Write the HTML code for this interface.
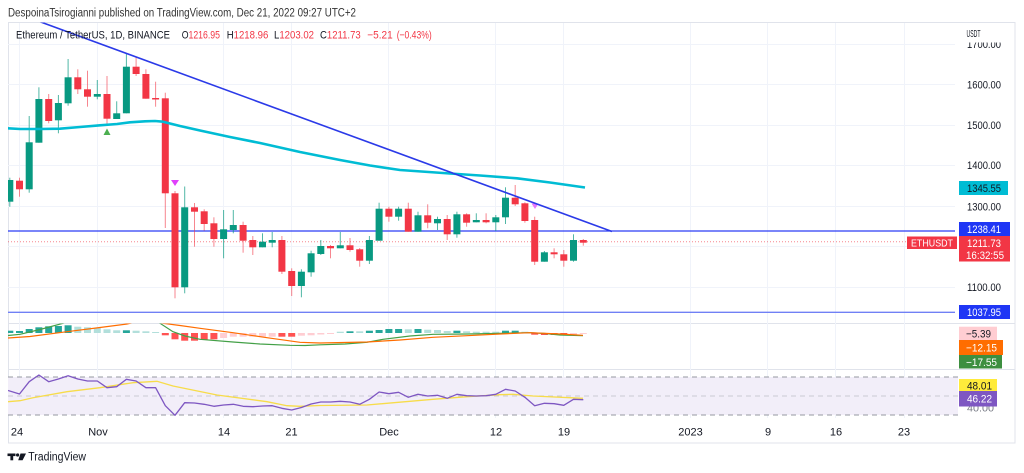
<!DOCTYPE html>
<html><head><meta charset="utf-8">
<style>
html,body{margin:0;padding:0;background:#fff;width:1024px;height:473px;overflow:hidden}
svg{display:block;font-family:"Liberation Sans",sans-serif}
</style></head><body>
<svg width="1024" height="473" viewBox="0 0 1024 473" xmlns="http://www.w3.org/2000/svg">
<defs>
<clipPath id="main"><rect x="8" y="22.5" width="947" height="300.5"/></clipPath>
<clipPath id="macd"><rect x="8" y="323.5" width="947" height="45.5"/></clipPath>
<clipPath id="rsi"><rect x="8" y="369.5" width="947" height="48"/></clipPath>
<clipPath id="lbl40"><rect x="959" y="406.5" width="50" height="6"/></clipPath>
</defs>

<!-- header -->
<text x="8" y="16.7" font-size="11.5" fill="#333" textLength="348" lengthAdjust="spacingAndGlyphs">DespoinaTsirogianni published on TradingView.com, Dec 21, 2022 09:27 UTC+2</text>

<!-- frame -->
<rect x="8.5" y="22.5" width="1006.5" height="420.5" fill="none" stroke="#e0e3eb" stroke-width="1"/>
<line x1="8" y1="323.5" x2="1015" y2="323.5" stroke="#e0e3eb"/>
<line x1="8" y1="369.5" x2="1015" y2="369.5" stroke="#e0e3eb"/>

<!-- grid -->
<g stroke="#f0f3fa" stroke-width="1">
<line x1="19.5" y1="23" x2="19.5" y2="418"/>
<line x1="97.5" y1="23" x2="97.5" y2="418"/>
<line x1="223.5" y1="23" x2="223.5" y2="418"/>
<line x1="291.5" y1="23" x2="291.5" y2="418"/>
<line x1="388.5" y1="23" x2="388.5" y2="418"/>
<line x1="495.5" y1="23" x2="495.5" y2="418"/>
<line x1="563.5" y1="23" x2="563.5" y2="418"/>
<line x1="690.5" y1="23" x2="690.5" y2="418"/>
<line x1="767.5" y1="23" x2="767.5" y2="418"/>
<line x1="835.5" y1="23" x2="835.5" y2="418"/>
<line x1="904.5" y1="23" x2="904.5" y2="418"/>
<line x1="8" y1="44.5" x2="955" y2="44.5"/>
<line x1="8" y1="84.5" x2="955" y2="84.5"/>
<line x1="8" y1="125.5" x2="955" y2="125.5"/>
<line x1="8" y1="165.5" x2="955" y2="165.5"/>
<line x1="8" y1="206.5" x2="955" y2="206.5"/>
<line x1="8" y1="246.5" x2="955" y2="246.5"/>
<line x1="8" y1="287.5" x2="955" y2="287.5"/>
</g>

<g clip-path="url(#main)">
<!-- horizontal levels -->
<line x1="8" y1="231" x2="959" y2="231" stroke="#2a3cf5" stroke-width="1.3"/>
<line x1="8" y1="312.3" x2="959" y2="312.3" stroke="#7080f5" stroke-width="1.3"/>
<line x1="8" y1="241.7" x2="907" y2="241.7" stroke="#f23645" stroke-width="1" stroke-dasharray="1 2" opacity="0.6"/>

<!-- green candles -->
<g fill="#089981">
<g opacity="0.7">
<rect x="9.3" y="177.7" width="1" height="29"/>
<rect x="28.7" y="116" width="1" height="76.7"/>
<rect x="38.4" y="87.3" width="1" height="55.4"/>
<rect x="57.9" y="95" width="1" height="38.3"/>
<rect x="67.6" y="59" width="1" height="46.7"/>
<rect x="96.8" y="80" width="1" height="19.3"/>
<rect x="116.2" y="101.3" width="1" height="17.7"/>
<rect x="125.9" y="54" width="1" height="59.3"/>
<rect x="184.2" y="186.5" width="1" height="106.8"/>
<rect x="223.1" y="210" width="1" height="48.3"/>
<rect x="232.8" y="210" width="1" height="23.3"/>
<rect x="262" y="233.3" width="1" height="14"/>
<rect x="271.7" y="232" width="1" height="15.3"/>
<rect x="300.9" y="269.3" width="1" height="28"/>
<rect x="310.6" y="250.7" width="1" height="26"/>
<rect x="320.3" y="240" width="1" height="15"/>
<rect x="339.8" y="232" width="1" height="16.3"/>
<rect x="368.9" y="236" width="1" height="28"/>
<rect x="378.6" y="202.7" width="1" height="38"/>
<rect x="398.1" y="206.7" width="1" height="14"/>
<rect x="417.5" y="211.7" width="1" height="20"/>
<rect x="437" y="216.7" width="1" height="13.3"/>
<rect x="456.4" y="211.7" width="1" height="26"/>
<rect x="475.8" y="213.3" width="1" height="9"/>
<rect x="495.3" y="215" width="1" height="16"/>
<rect x="505" y="187.3" width="1" height="36.7"/>
<rect x="543.9" y="251" width="1" height="10.7"/>
<rect x="573" y="234.3" width="1" height="27.4"/>
</g>
<rect x="6.3" y="180" width="7" height="21.7"/>
<rect x="25.7" y="142.3" width="7" height="47"/>
<rect x="35.4" y="99" width="7" height="43.7"/>
<rect x="54.9" y="103" width="7" height="17.3"/>
<rect x="64.6" y="77.3" width="7" height="26"/>
<rect x="93.8" y="94" width="7" height="2.7"/>
<rect x="113.2" y="113.3" width="7" height="5.7"/>
<rect x="122.9" y="66.7" width="7" height="46.6"/>
<rect x="181.2" y="207.3" width="7" height="80"/>
<rect x="220.1" y="229.3" width="7" height="9.7"/>
<rect x="229.8" y="225" width="7" height="5"/>
<rect x="259" y="241.7" width="7" height="5.6"/>
<rect x="268.7" y="240" width="7" height="2.7"/>
<rect x="297.9" y="271.7" width="7" height="14.3"/>
<rect x="307.6" y="253.3" width="7" height="19"/>
<rect x="317.3" y="246" width="7" height="8"/>
<rect x="336.8" y="245.3" width="7" height="3"/>
<rect x="365.9" y="240" width="7" height="20.7"/>
<rect x="375.6" y="208.7" width="7" height="32"/>
<rect x="395.1" y="208.7" width="7" height="8"/>
<rect x="414.5" y="215.3" width="7" height="16.4"/>
<rect x="434" y="219" width="7" height="4.3"/>
<rect x="453.4" y="214.3" width="7" height="20"/>
<rect x="472.8" y="220" width="7" height="2.3"/>
<rect x="492.3" y="217.3" width="7" height="5"/>
<rect x="502" y="197.7" width="7" height="19.6"/>
<rect x="540.9" y="252.3" width="7" height="9.4"/>
<rect x="570" y="240" width="7" height="20.7"/>
</g>

<!-- red candles -->
<g fill="#f23645">
<g opacity="0.6">
<rect x="19" y="177.7" width="1" height="19"/>
<rect x="48.2" y="94" width="1" height="29.3"/>
<rect x="77.3" y="69.3" width="1" height="24.7"/>
<rect x="87" y="70.7" width="1" height="36"/>
<rect x="106.5" y="76" width="1" height="48"/>
<rect x="135.6" y="57.3" width="1" height="18.7"/>
<rect x="145.4" y="69.3" width="1" height="29.4"/>
<rect x="155.1" y="81.7" width="1" height="25"/>
<rect x="164.8" y="92.7" width="1" height="135.3"/>
<rect x="174.5" y="191" width="1" height="107.3"/>
<rect x="194" y="203" width="1" height="43.7"/>
<rect x="203.7" y="209.3" width="1" height="21.4"/>
<rect x="213.4" y="217.3" width="1" height="29.4"/>
<rect x="242.6" y="221.7" width="1" height="31"/>
<rect x="252.3" y="236" width="1" height="19"/>
<rect x="281.4" y="236" width="1" height="38"/>
<rect x="291.2" y="268.3" width="1" height="27.7"/>
<rect x="330" y="245" width="1" height="13.3"/>
<rect x="349.5" y="238" width="1" height="13.7"/>
<rect x="359.2" y="248" width="1" height="18.7"/>
<rect x="388.4" y="206.7" width="1" height="15"/>
<rect x="407.8" y="202.7" width="1" height="29"/>
<rect x="427.2" y="204.3" width="1" height="24"/>
<rect x="446.7" y="215" width="1" height="25"/>
<rect x="466.1" y="213.3" width="1" height="13.4"/>
<rect x="485.6" y="213.3" width="1" height="10"/>
<rect x="514.7" y="185" width="1" height="21"/>
<rect x="524.4" y="202.3" width="1" height="20.4"/>
<rect x="534.2" y="216.7" width="1" height="48.3"/>
<rect x="553.6" y="248.3" width="1" height="10"/>
<rect x="563.3" y="250" width="1" height="16.7"/>
<rect x="582.8" y="239" width="1" height="6.7"/>
</g>
<rect x="16" y="180.7" width="7" height="8.6"/>
<rect x="45.2" y="99" width="7" height="22"/>
<rect x="74.3" y="77.3" width="7" height="12"/>
<rect x="84" y="89.3" width="7" height="7.4"/>
<rect x="103.5" y="94" width="7" height="24.7"/>
<rect x="132.6" y="66.7" width="7" height="7.3"/>
<rect x="142.4" y="74" width="7" height="24.7"/>
<rect x="152.1" y="98" width="7" height="1.5"/>
<rect x="161.8" y="98.3" width="7" height="95"/>
<rect x="171.5" y="193.3" width="7" height="94"/>
<rect x="191" y="207.3" width="7" height="4.4"/>
<rect x="200.7" y="211.3" width="7" height="12.7"/>
<rect x="210.4" y="223.3" width="7" height="15.7"/>
<rect x="239.6" y="225" width="7" height="15.7"/>
<rect x="249.3" y="240" width="7" height="7.3"/>
<rect x="278.4" y="240" width="7" height="31.7"/>
<rect x="288.2" y="271" width="7" height="15"/>
<rect x="327" y="246" width="7" height="2.3"/>
<rect x="346.5" y="245.3" width="7" height="4.7"/>
<rect x="356.2" y="249.3" width="7" height="11.4"/>
<rect x="385.4" y="208.7" width="7" height="8"/>
<rect x="404.8" y="208.7" width="7" height="23"/>
<rect x="424.2" y="215.3" width="7" height="7.4"/>
<rect x="443.7" y="219" width="7" height="15.3"/>
<rect x="463.1" y="214.3" width="7" height="8.4"/>
<rect x="482.6" y="220" width="7" height="2.3"/>
<rect x="511.7" y="197.7" width="7" height="6.6"/>
<rect x="521.4" y="203.3" width="7" height="17.7"/>
<rect x="531.2" y="220" width="7" height="41.7"/>
<rect x="550.6" y="252.3" width="7" height="2"/>
<rect x="560.3" y="254.3" width="7" height="6.4"/>
<rect x="579.8" y="240" width="7" height="2.7"/>
</g>

<!-- markers -->
<polygon points="103.5,135 110.5,135 107,128.5" fill="#4caf50"/>
<polygon points="171,180 179,180 175,186" fill="#e040fb"/>
<polygon points="531.5,203.5 538.5,203.5 535,209" fill="#e040fb" opacity="0.7"/>

<!-- cyan MA -->
<polyline fill="none" stroke="#00bcd4" stroke-width="2.6" stroke-linejoin="round" points="8,128.3 20,129 40,129 60,128.7 80,127 100,125.3 117,124 130,122.3 145,121.3 155,121 163,121.7 170,123.5 180,126 200,130.5 230,137 260,143 300,152 340,160 370,165.5 400,170 450,173.5 480,175.5 517,178.3 550,182.5 585,187.5"/>

<!-- trend line -->
<line x1="35" y1="19.9" x2="612" y2="231.5" stroke="#2b3ae8" stroke-width="1.6"/>
</g>

<!-- legend row -->
<text x="16" y="38.7" font-size="11" fill="#131722" textLength="154" lengthAdjust="spacingAndGlyphs">Ethereum / TetherUS, 1D, BINANCE</text>
<g font-size="11" fill="#f23645">
<text x="181.7" y="38.7" textLength="38.3" lengthAdjust="spacingAndGlyphs"><tspan fill="#131722">O</tspan>1216.95</text>
<text x="226.7" y="38.7" textLength="41.6" lengthAdjust="spacingAndGlyphs"><tspan fill="#131722">H</tspan>1218.96</text>
<text x="274" y="38.7" textLength="40" lengthAdjust="spacingAndGlyphs"><tspan fill="#131722">L</tspan>1203.02</text>
<text x="320" y="38.7" textLength="40.7" lengthAdjust="spacingAndGlyphs"><tspan fill="#131722">C</tspan>1211.73</text>
<text x="367.3" y="38.7" textLength="25.4" lengthAdjust="spacingAndGlyphs">−5.21</text>
<text x="396.7" y="38.7" textLength="35" lengthAdjust="spacingAndGlyphs">(−0.43%)</text>
</g>

<!-- MACD panel -->
<g clip-path="url(#macd)">
<g fill="#26a69a">
<rect x="6.3" y="330.7" width="7" height="2.3"/>
<rect x="16" y="331" width="7" height="2"/>
<rect x="25.7" y="329" width="7" height="4"/>
<rect x="35.4" y="327.3" width="7" height="5.7"/>
<rect x="45.2" y="326.3" width="7" height="6.7"/>
<rect x="54.9" y="326" width="7" height="7"/>
<rect x="64.6" y="325.3" width="7" height="7.7"/>
<rect x="122.9" y="330.3" width="7" height="2.7"/>
<rect x="346.5" y="331.3" width="7" height="1.7"/>
<rect x="365.9" y="330.7" width="7" height="2.3"/>
<rect x="375.6" y="330" width="7" height="3"/>
<rect x="385.4" y="329" width="7" height="4"/>
<rect x="395.1" y="329" width="7" height="4"/>
<rect x="414.5" y="329" width="7" height="4"/>
<rect x="453.4" y="330.7" width="7" height="2.3"/>
<rect x="502" y="330.7" width="7" height="2.3"/>
<rect x="511.7" y="330.7" width="7" height="2.3"/>
</g>
<g fill="#b2dfdb">
<rect x="74.3" y="326.7" width="7" height="6.3"/>
<rect x="84" y="327.3" width="7" height="5.7"/>
<rect x="93.8" y="328" width="7" height="5"/>
<rect x="103.5" y="329.3" width="7" height="3.7"/>
<rect x="113.2" y="330.3" width="7" height="2.7"/>
<rect x="132.6" y="330.7" width="7" height="2.3"/>
<rect x="142.4" y="331.3" width="7" height="1.7"/>
<rect x="152.1" y="332" width="7" height="1"/>
<rect x="336.8" y="331.7" width="7" height="1.3"/>
<rect x="356.2" y="331.3" width="7" height="1.7"/>
<rect x="404.8" y="329.3" width="7" height="3.7"/>
<rect x="424.2" y="329.7" width="7" height="3.3"/>
<rect x="434" y="330" width="7" height="3"/>
<rect x="443.7" y="331" width="7" height="2"/>
<rect x="463.1" y="331.3" width="7" height="1.7"/>
<rect x="472.8" y="331.7" width="7" height="1.3"/>
<rect x="482.6" y="331.7" width="7" height="1.3"/>
<rect x="492.3" y="331.7" width="7" height="1.3"/>
<rect x="521.4" y="331.7" width="7" height="1.3"/>
</g>
<g fill="#ff5252">
<rect x="161.8" y="333" width="7" height="2.3"/>
<rect x="171.5" y="333" width="7" height="6.3"/>
<rect x="181.2" y="333" width="7" height="7.7"/>
<rect x="191" y="333" width="7" height="7.7"/>
<rect x="200.7" y="333" width="7" height="7"/>
<rect x="210.4" y="333" width="7" height="6.3"/>
<rect x="278.4" y="333" width="7" height="3.7"/>
<rect x="288.2" y="333" width="7" height="3.7"/>
<rect x="531.2" y="333" width="7" height="1.7"/>
<rect x="540.9" y="333" width="7" height="2"/>
<rect x="550.6" y="333" width="7" height="2"/>
<rect x="560.3" y="333" width="7" height="2"/>
</g>
<g fill="#ffcdd2">
<rect x="220.1" y="333" width="7" height="5"/>
<rect x="229.8" y="333" width="7" height="3.7"/>
<rect x="239.6" y="333" width="7" height="3.7"/>
<rect x="249.3" y="333" width="7" height="3.7"/>
<rect x="259" y="333" width="7" height="3.7"/>
<rect x="268.7" y="333" width="7" height="3.7"/>
<rect x="297.9" y="333" width="7" height="2.7"/>
<rect x="307.6" y="333" width="7" height="2.3"/>
<rect x="317.3" y="333" width="7" height="1.5"/>
<rect x="327" y="333" width="7" height="1"/>
<rect x="570" y="333" width="7" height="1.7"/>
<rect x="579.8" y="333" width="7" height="1"/>
</g>
<polyline fill="none" stroke="#43a047" stroke-width="1.2" points="8,335.5 20,334.3 40,329.5 63,323.3 80,318 120,312 150,318 160,323.3 173,331.7 185,336 200,339.3 233,342 260,344 290,345.3 305,345.5 320,344.8 345,344 367,342.3 383,339.3 410,336 433,334.3 467,334 500,333.3 530,332.7 545,333.5 560,335 583,335.7"/>
<polyline fill="none" stroke="#ff6d00" stroke-width="1.2" points="8,338 30,336.5 67,331.7 100,327.5 127,324 145,320 163,323.3 180,325.5 200,328.3 233,332.7 267,337.7 300,342.3 320,343 367,342 400,340 433,337.3 467,335.7 500,334 530,332.7 560,334 583,335.3"/>
</g>

<!-- RSI panel -->
<rect x="8" y="377" width="950" height="38" fill="#f2eef9"/>
<line x1="8" y1="377" x2="958" y2="377" stroke="#9598a1" stroke-dasharray="5 4"/>
<line x1="8" y1="396" x2="958" y2="396" stroke="#c9c9d2" stroke-dasharray="5 4"/>
<line x1="8" y1="415" x2="958" y2="415" stroke="#9598a1" stroke-dasharray="5 4"/>
<g clip-path="url(#rsi)">
<polyline fill="none" stroke="#f7dc4a" stroke-width="1.3" points="8,401.7 20,400.7 33,397.7 67,391.7 100,387.7 133,382.7 157,381.3 173,386 217,395 267,401.7 287,405.7 300,406.3 320,405.5 367,405 433,399.3 467,396.7 500,394.7 513,394.3 533,396 583,398.3"/>
<polyline fill="none" stroke="#7e57c2" stroke-width="1.3" stroke-linejoin="round" points="8,390.5 19.5,394 29.2,381.7 38.9,375 48.7,381.7 58.4,379 68.1,375.7 77.8,379 87.5,381 97.3,381 107,387.7 116.7,386.7 126.4,379.3 136.1,381 145.9,387.7 155.6,387.7 165.3,405.7 175,415.3 184.7,402.7 194.5,403 204.2,404.3 213.9,406.3 223.6,405 233.3,404.3 243.1,406.3 252.8,406.7 262.5,406 272.2,405.7 281.9,408.3 291.7,410 301.4,407.5 311.1,404 320.8,402 330.5,402 340.3,401.3 350,402 359.7,404.3 369.4,399.3 379.1,392 388.9,393.7 398.6,392.3 408.3,397.3 418,394.3 427.7,396 437.5,395.3 447.2,398.3 456.9,394.3 466.6,395.7 476.3,396 486.1,395.7 495.8,394.3 505.5,389.3 515.2,391 524.9,397.3 534.7,405.7 544.4,403.3 554.1,403.7 563.8,405.3 573.5,399.3 583.3,399.7"/>
</g>

<!-- price axis labels -->
<g font-size="11" fill="#131722">
<text x="967" y="48" textLength="34" lengthAdjust="spacingAndGlyphs">1700.00</text>
<text x="967" y="88.5" textLength="34" lengthAdjust="spacingAndGlyphs">1600.00</text>
<text x="967" y="129" textLength="34" lengthAdjust="spacingAndGlyphs">1500.00</text>
<text x="967" y="169" textLength="34" lengthAdjust="spacingAndGlyphs">1400.00</text>
<text x="967" y="210.5" textLength="34" lengthAdjust="spacingAndGlyphs">1300.00</text>
<text x="967" y="291" textLength="34" lengthAdjust="spacingAndGlyphs">1100.00</text>
</g>
<rect x="956" y="23" width="58" height="19.5" fill="#fff"/>
<text x="966.5" y="37" font-size="10" fill="#131722" textLength="14" lengthAdjust="spacingAndGlyphs">USDT</text>

<!-- boxed labels -->
<rect x="959" y="181" width="49" height="14" fill="#00bcd4"/>
<text x="967" y="192" font-size="11" fill="#131722" textLength="34" lengthAdjust="spacingAndGlyphs">1345.55</text>
<rect x="959" y="222" width="51" height="14" fill="#1f36f5"/>
<text x="967" y="233" font-size="11" fill="#fff" textLength="34" lengthAdjust="spacingAndGlyphs">1238.41</text>
<rect x="959" y="236" width="51" height="25.5" fill="#f23645"/>
<text x="967" y="247" font-size="11" fill="#fff" textLength="34" lengthAdjust="spacingAndGlyphs">1211.73</text>
<text x="966" y="259" font-size="11" fill="#fff" textLength="38" lengthAdjust="spacingAndGlyphs">16:32:55</text>
<rect x="907" y="236.5" width="50" height="12.5" fill="#f23645"/>
<text x="911" y="246.5" font-size="10.5" fill="#fff" textLength="42" lengthAdjust="spacingAndGlyphs">ETHUSDT</text>
<rect x="959" y="305" width="51" height="14" fill="#1f36f5"/>
<text x="967" y="316" font-size="11" fill="#fff" textLength="34" lengthAdjust="spacingAndGlyphs">1037.95</text>

<rect x="959" y="326.7" width="38" height="13.3" fill="#ffcdd2"/>
<text x="966" y="337.3" font-size="11" fill="#131722" textLength="25" lengthAdjust="spacingAndGlyphs">−5.39</text>
<rect x="959" y="340" width="44" height="15" fill="#ff6d00"/>
<text x="966" y="351.5" font-size="11" fill="#fff" textLength="31" lengthAdjust="spacingAndGlyphs">−12.15</text>
<rect x="959" y="355" width="43" height="13.5" fill="#3d8f40"/>
<text x="966" y="366" font-size="11" fill="#fff" textLength="31" lengthAdjust="spacingAndGlyphs">−17.55</text>

<g clip-path="url(#lbl40)"><text x="967" y="411.5" font-size="10" fill="#787b86" textLength="27" lengthAdjust="spacingAndGlyphs">40.00</text></g>
<rect x="959" y="379" width="38" height="12" fill="#ffeb3b"/>
<text x="967" y="389.5" font-size="11" fill="#131722" textLength="25" lengthAdjust="spacingAndGlyphs">48.01</text>
<rect x="959" y="391" width="38" height="15.5" fill="#7e57c2"/>
<text x="967" y="402.5" font-size="11" fill="#fff" textLength="25" lengthAdjust="spacingAndGlyphs">46.22</text>

<!-- time axis -->
<g font-size="11" fill="#131722" text-anchor="middle">
<text x="17" y="435.5">24</text>
<text x="98" y="435.5">Nov</text>
<text x="224" y="435.5">14</text>
<text x="291.5" y="435.5">21</text>
<text x="389" y="435.5">Dec</text>
<text x="496" y="435.5">12</text>
<text x="564" y="435.5">19</text>
<text x="690.5" y="435.5">2023</text>
<text x="768" y="435.5">9</text>
<text x="836" y="435.5">16</text>
<text x="904" y="435.5">23</text>
</g>

<!-- footer -->
<g fill="#131722">
<rect x="7.5" y="453.5" width="8" height="2.6"/>
<rect x="10.4" y="453.5" width="2.8" height="6.8"/>
<circle cx="17.6" cy="455" r="1.6"/>
<polygon points="20.5,453.5 26,453.5 22.6,460.3 18.2,460.3"/>
</g>
<text x="28.3" y="460.3" font-size="11.5" fill="#131722" textLength="57.7" lengthAdjust="spacingAndGlyphs">TradingView</text>
</svg>
</body></html>
